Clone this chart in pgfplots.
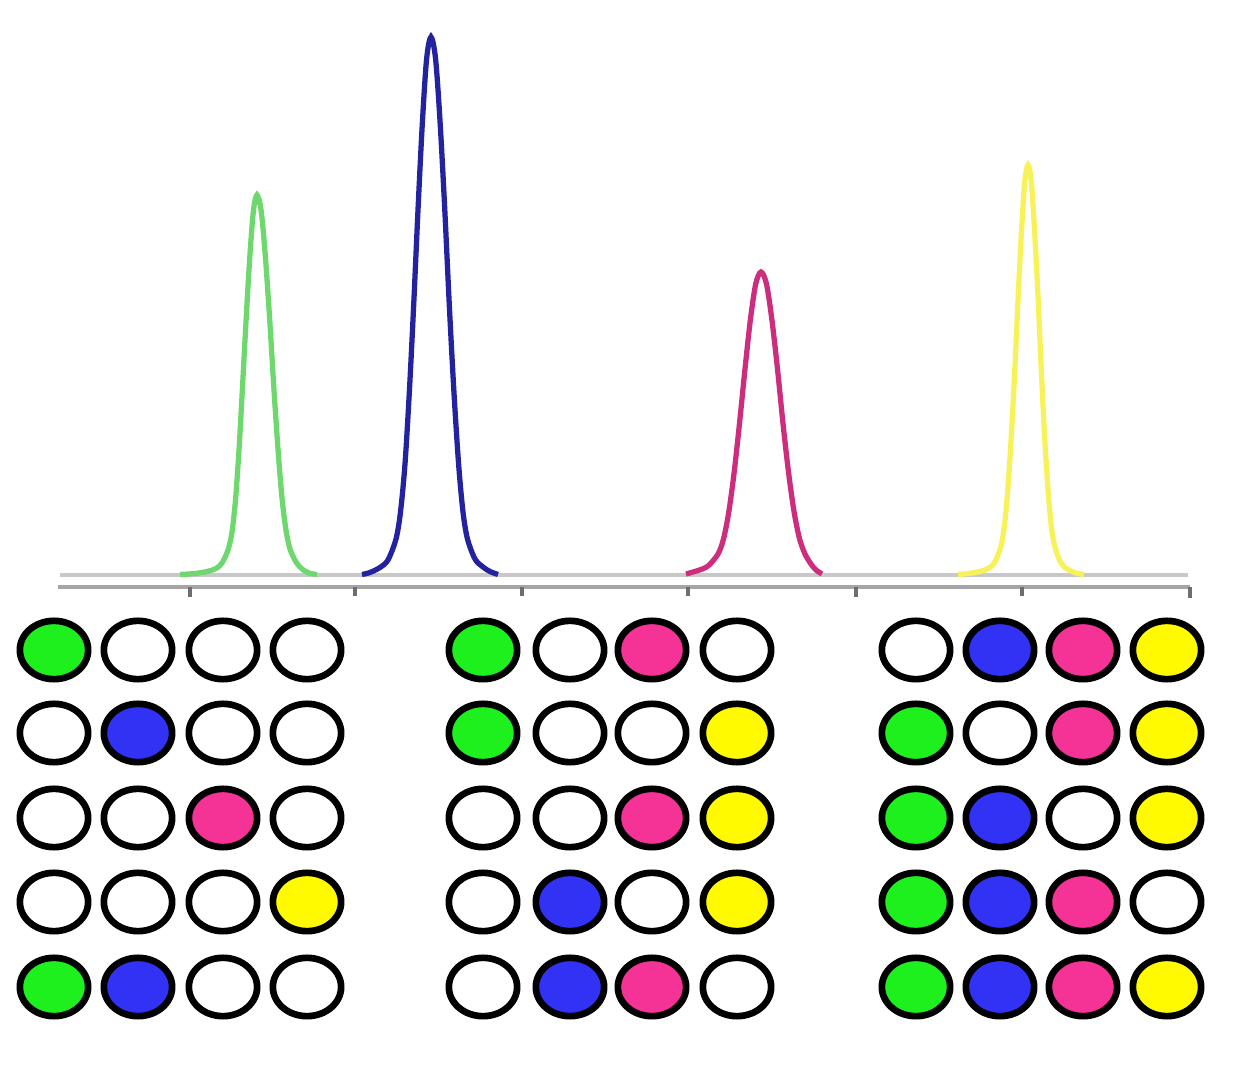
\documentclass[border=0pt]{standalone}
\usepackage{pgfplots}
\pgfplotsset{compat=1.18}
\definecolor{lgreen}{RGB}{110,215,110}
\definecolor{lblue}{RGB}{35,35,160}
\definecolor{lpink}{RGB}{205,45,125}
\definecolor{lyellow}{RGB}{248,242,90}
\definecolor{fgreen}{RGB}{30,240,30}
\definecolor{fblue}{RGB}{50,50,245}
\definecolor{fpink}{RGB}{245,50,150}
\definecolor{fyellow}{RGB}{255,250,0}
\begin{document}
\begin{tikzpicture}
\begin{axis}[width=12.37cm,height=10.7cm,scale only axis,
xmin=0,xmax=1237,ymin=0,ymax=1070,hide axis,clip=false]
\path (rel axis cs:0,0) rectangle (rel axis cs:1,1);
% baseline and axis line with ticks
\addplot[color={rgb,255:red,200;green,200;blue,200},line width=1.1pt] coordinates {(60,495) (1188,495)};
\addplot[color={rgb,255:red,165;green,165;blue,165},line width=1.1pt] coordinates {(58,483) (1190,483)};
\addplot[color={rgb,255:red,110;green,110;blue,110},line width=1pt,unbounded coords=jump] coordinates {
(190,483) (190,473) (190,nan)
(355,483) (355,474) (355,nan)
(522,483) (522,474) (522,nan)
(688,483) (688,474) (688,nan)
(856,483) (856,473) (856,nan)
(1022,483) (1022,474) (1022,nan)
(1190,483) (1190,472)};
% peaks
\pgfplotsset{peak/.style={#1,line width=1.5pt,smooth,tension=0.5}}
\addplot[peak=lgreen] coordinates {
(180,495.5) (195,496.5) (207,498.5) (216,501.5) (222,507) (228,520) (232,538) (235.5,570)
(239,620) (242.5,683) (246.2,752) (249.8,813) (253.4,859) (257,875)
(261.2,859) (265.4,813) (269.6,752) (273.8,683) (278,621) (282,572) (286,540)
(290,521) (296,508) (302,501) (309,497) (317,495.5)};
\addplot[peak=lblue] coordinates {
(362,495.5) (370,497.5) (380,502.5) (388,510) (396,531) (400.5,558) (405,606)
(409.3,677) (413.6,763) (418,860) (422.3,946) (426.6,1011) (431,1033)
(435.6,1011) (440.2,946) (444.8,860) (449.4,763) (454,677) (458.6,606) (463,558)
(467.5,531) (475,511) (483,503) (490,498.5) (498,495.5)};
\addplot[peak=lpink] coordinates {
(686,496) (698,499.5) (708,504) (718,516) (723.5,531) (728.8,558) (734.2,598)
(739.5,646.5) (745,701) (750.3,749.5) (755.7,786) (761,798)
(766.5,786) (772,749.5) (777.5,701) (783,646.5) (788.5,598) (794,558.6) (799.5,531.4)
(805,516) (811,506) (816,500) (822,496)};
\addplot[peak=lyellow] coordinates {
(958,495.5) (972,497) (985,500) (993.5,506) (1000.5,522) (1004.3,543) (1007.8,580)
(1011.3,634) (1014.8,700) (1018.2,774) (1021.5,839) (1024.8,888.6) (1028,905)
(1031.3,888.6) (1034.6,839) (1038,774) (1041.3,700) (1044.6,634) (1048,581)
(1051.3,544) (1055,523) (1061,507) (1068,500.5) (1076,497) (1084,495.5)};
% circles
\pgfplotsset{dot/.style={only marks,mark=*,mark size=8.3pt,
  mark options={xscale=1.17,draw=black,line width=1.9pt,fill=#1}}}
\addplot[dot=white] coordinates {
(138,420) (223,420) (307,420) (570,420) (737,420) (916,420)
(54,337) (223,337) (307,337) (570,337) (652,337) (1000,337)
(54,252) (138,252) (307,252) (483,252) (570,252) (1083,252)
(54,168) (138,168) (223,168) (483,168) (652,168) (1167,168)
(223,83) (307,83) (483,83) (737,83)};
\addplot[dot=fgreen] coordinates {
(54,420) (483,420) (483,337) (916,337) (916,252) (916,168) (54,83) (916,83)};
\addplot[dot=fblue] coordinates {
(1000,420) (138,337) (1000,252) (570,168) (1000,168) (138,83) (570,83) (1000,83)};
\addplot[dot=fpink] coordinates {
(652,420) (1083,420) (1083,337) (223,252) (652,252) (1083,168) (652,83) (1083,83)};
\addplot[dot=fyellow] coordinates {
(1167,420) (737,337) (1167,337) (737,252) (1167,252) (307,168) (737,168) (1167,83)};
\end{axis}
\end{tikzpicture}
\end{document}
